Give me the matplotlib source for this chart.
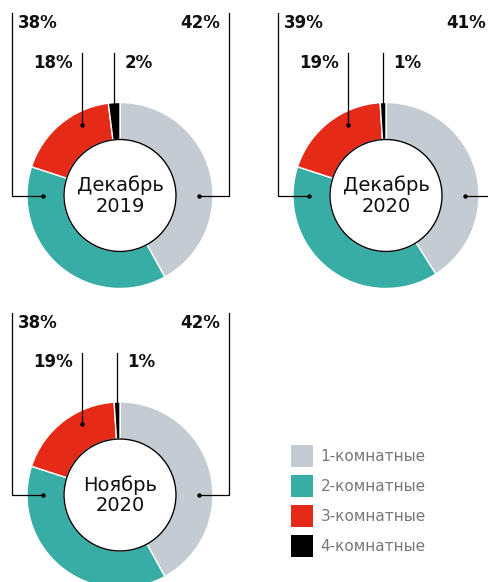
import numpy as np
import matplotlib
matplotlib.use('Agg')
import matplotlib.pyplot as plt
from matplotlib.patches import Circle

plt.rcParams['font.family'] = ['DejaVu Sans']

# Data
categories = ['1-комнатные', '2-комнатные', '3-комнатные', '4-комнатные']
periods = ['Декабрь\n2019', 'Декабрь\n2020', 'Ноябрь\n2020']
dec_2019 = [42, 38, 18, 2]
dec_2020 = [41, 39, 19, 1]
nov_2020 = [42, 38, 19, 1]

colors = ['#C4CBD2', '#37ADA5', '#E52A17', '#000000']

W, H = 488, 582
R_OUT, R_IN = 93, 56


def Y(py):
    # pixel row -> data y
    return H - py


fig = plt.figure(figsize=(W / 100, H / 100), dpi=100)
ax = fig.add_axes([0, 0, 1, 1])

centers = [(120, 195.5), (386, 195.5), (120, 495)]
lw_line = 0.9

for values, period, (cx, cy) in zip([dec_2019, dec_2020, nov_2020], periods, centers):
    wedges, _ = ax.pie(values, colors=colors, startangle=90, counterclock=False,
                       center=(cx, Y(cy)), radius=R_OUT,
                       wedgeprops=dict(width=R_OUT - R_IN, edgecolor='white', linewidth=1))
    ax.add_patch(Circle((cx, Y(cy)), R_IN, facecolor='white', edgecolor='black',
                        lw=1, zorder=3))
    ax.text(cx, Y(cy), period, ha='center', va='center', fontsize=14,
            linespacing=1.1, color='#111111', zorder=4)

    top = cy - 182.5
    # 1-room (right)
    ax.plot([cx + 79, cx + 109, cx + 109], [Y(cy), Y(cy), Y(top)], color='black', lw=lw_line, zorder=5)
    ax.plot(cx + 79, Y(cy), 'o', ms=2.2, color='black', zorder=5)
    ax.text(cx + 100, Y(cy - 172.5), f'{values[0]}%', ha='right', va='center',
            fontsize=12, fontweight='bold', color='#111111')
    # 2-room (left)
    ax.plot([cx - 77, cx - 108, cx - 108], [Y(cy), Y(cy), Y(top)], color='black', lw=lw_line, zorder=5)
    ax.plot(cx - 77, Y(cy), 'o', ms=2.2, color='black', zorder=5)
    ax.text(cx - 102, Y(cy - 172.5), f'{values[1]}%', ha='left', va='center',
            fontsize=12, fontweight='bold', color='#111111')
    # 3-room
    rx, ry = cx - 38, cy - 71
    ax.plot([rx, rx], [Y(ry), Y(cy - 142.5)], color='black', lw=lw_line, zorder=5)
    ax.plot(rx, Y(ry), 'o', ms=2.2, color='black', zorder=5)
    ax.text(rx - 9, Y(cy - 133), f'{values[2]}%', ha='right', va='center',
            fontsize=12, fontweight='bold', color='#111111')
    # 4-room
    bx = cx - R_OUT * np.sin(np.pi * values[3] / 100)
    ax.plot([bx, bx], [Y(cy - R_OUT), Y(cy - 142.5)], color='black', lw=lw_line, zorder=5)
    ax.text(bx + 10, Y(cy - 133), f'{values[3]}%', ha='left', va='center',
            fontsize=12, fontweight='bold', color='#111111')

    if period == periods[0]:
        handles = wedges

ax.set_xlim(0, W)
ax.set_ylim(0, H)
ax.set_aspect('equal')
ax.axis('off')

leg = ax.legend(handles, categories, loc='upper left',
                bbox_to_anchor=(291 / W, Y(445) / H), frameon=False,
                fontsize=11, handlelength=1.44, handleheight=1.84,
                handletextpad=0.5, labelspacing=0.52, borderpad=0, borderaxespad=0)
for t in leg.get_texts():
    t.set_color('#777777')
for p in leg.get_patches():
    p.set_edgecolor('none')

fig.savefig('out.png', dpi=100)
